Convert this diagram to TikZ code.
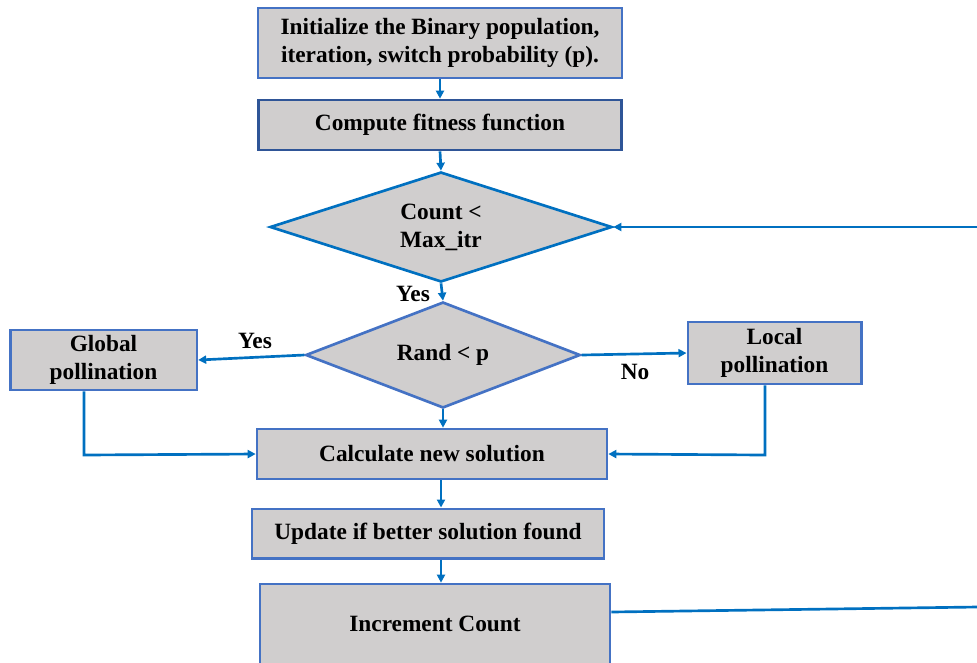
\documentclass[tikz,border=0pt]{standalone}
\usepackage{fontspec}
\setmainfont{Liberation Serif}
\usetikzlibrary{shapes.geometric,arrows.meta}
\definecolor{boxfill}{HTML}{D0CECE}
\definecolor{boxline}{HTML}{4472C4}
\definecolor{darkline}{HTML}{2F5597}
\definecolor{arrline}{HTML}{0070C0}
\begin{document}
\begin{tikzpicture}[x=0.75pt,y=-0.75pt,
  every node/.style={font=\fontsize{17.5}{21}\selectfont\bfseries},
  procbox/.style={draw=boxline,fill=boxfill,line width=2pt,align=center,inner sep=0pt},
  decide/.style={diamond,draw=boxline,fill=boxfill,line width=2pt,align=center,inner sep=0pt},
  flow/.style={draw=arrline,line width=2pt,-{Triangle[length=6pt,width=6pt]}},
  plain/.style={draw=arrline,line width=2pt},
  lbl/.style={inner sep=0pt}]
\useasboundingbox (0,0) rectangle (977,662);
\node[procbox,minimum width=273pt,minimum height=52.5pt] (init) at (440,43)
  {Initialize the Binary population,\\iteration, switch probability (p).};
\node[procbox,draw=darkline,minimum width=272pt,minimum height=37.5pt] (fit) at (440,125)
  {Compute fitness function};
\node[decide,draw=arrline,minimum width=256.5pt,minimum height=82.5pt,aspect=3.1] (d1) at (441,227)
  {Count <\\Max\_itr};
\node[decide,minimum width=206pt,minimum height=79.5pt,aspect=2.6] (d2) at (443,355)
  {Rand < p};
\node[procbox,minimum width=140pt,minimum height=45pt] (glob) at (103.5,360)
  {Global\\pollination};
\node[procbox,minimum width=130pt,minimum height=46.5pt] (loc) at (774.5,353)
  {Local\\pollination};
\node[procbox,minimum width=262.5pt,minimum height=37.5pt] (calc) at (432,454)
  {Calculate new solution};
\node[procbox,minimum width=264pt,minimum height=37pt] (upd) at (428,533.5)
  {Update if better solution found};
\node[procbox,minimum width=262.5pt,minimum height=60pt] (inc) at (435,624)
  {Increment Count};
\node[lbl] (yes1) at (413,294) {Yes};
\node[lbl] (yes2) at (255,341) {Yes};
\node[lbl] (no) at (635,372) {No};
\coordinate (edgeA) at (977,607);
\coordinate (edgeB) at (977,227);
\draw[flow] (init.south) -- (fit.north);
\draw[flow] (fit.south) -- (d1.north);
\draw[flow] (d1.south) -- (d2.north);
\draw[flow] (d2.west) -- (glob.east);
\draw[flow] (d2.east) -- (loc.west);
\draw[flow] (d2.south) -- (calc.north -| d2.south);
\draw[flow] (glob.south -| 84,0) -- (84,455) -- (calc.west);
\draw[flow] (loc.south -| 765,0) -- (765,455) -- (calc.east);
\draw[flow] (calc.south -| 441,0) -- (upd.north -| 441,0);
\draw[flow] (upd.south -| 441,0) -- (inc.north -| 441,0);
\draw[plain] ([yshift=9pt]inc.east) -- (edgeA);
\draw[flow] (edgeB) -- (d1.east);
\end{tikzpicture}
\end{document}
